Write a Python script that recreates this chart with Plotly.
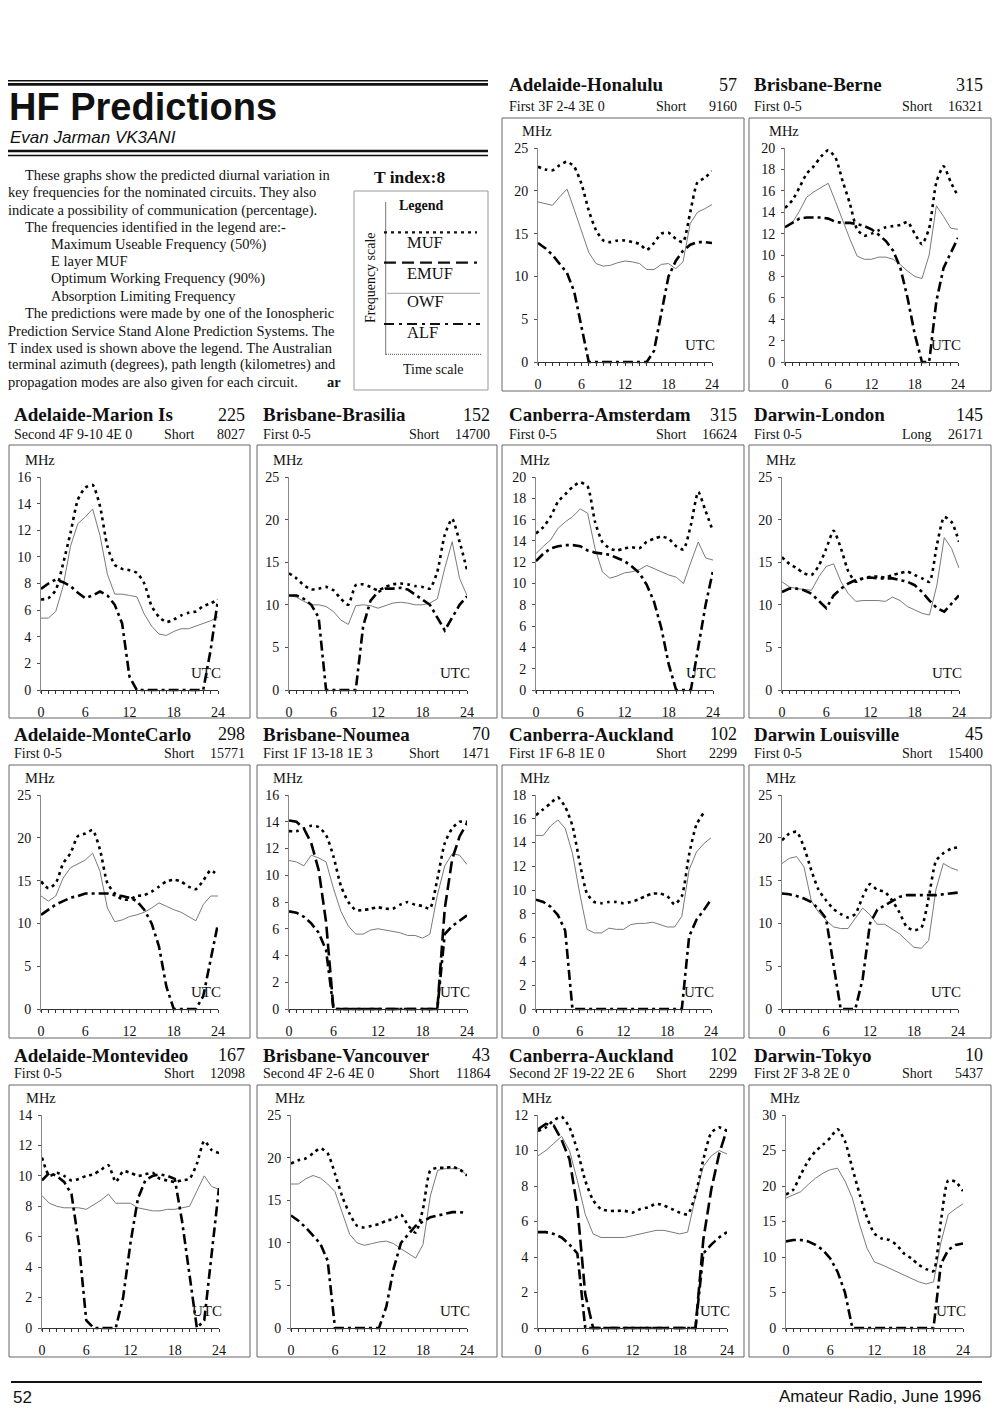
import plotly.graph_objects as go

W, H = 1000, 1415
# the page body adds an 8 px margin, so page positions are shifted back by that much
OFFSET = 8
SERIF = "Liberation Serif, Times New Roman, serif"
SANS = "Liberation Sans, Arial, sans-serif"

HOURS = list(range(25))

# ---- hourly predictions (MHz), UTC 0..24 ----
hon_muf = [22.8, 22.5, 22.4, 23.0, 23.4, 22.8, 20.8, 17.7, 15.4, 14.2, 14.0, 14.2, 14.2, 14.0, 13.8, 13.1, 13.9, 15.0, 15.1, 14.4, 14.0, 17.5, 21.0, 21.5, 22.3]
hon_owf = [18.7, 18.5, 18.3, 19.3, 20.2, 17.8, 15.2, 12.8, 11.5, 11.2, 11.3, 11.6, 11.8, 11.7, 11.5, 10.8, 10.8, 11.4, 11.5, 10.9, 11.7, 16.2, 17.5, 17.9, 18.4]
hon_alf = [13.9, 13.3, 12.5, 11.5, 10.4, 8.2, 4.0, 0, 0, 0, 0, 0, 0, 0, 0, 0, 1.3, 5.6, 10.0, 11.8, 13.0, 13.7, 14.0, 14.0, 13.9]

berne_muf = [14.4, 15.1, 16.3, 17.6, 18.3, 19.2, 19.8, 19.1, 16.9, 14.8, 12.4, 11.8, 12.0, 12.3, 12.6, 12.7, 12.8, 13.1, 12.0, 11.0, 12.5, 16.8, 18.3, 16.8, 15.5]
berne_owf = [12.6, 13.0, 14.1, 15.4, 15.9, 16.3, 16.7, 15.0, 13.2, 11.5, 9.9, 9.6, 9.6, 9.8, 9.8, 9.6, 9.1, 8.5, 8.0, 7.8, 10.0, 14.6, 13.6, 12.5, 12.4]
berne_alf = [12.6, 13.0, 13.4, 13.5, 13.5, 13.5, 13.4, 13.1, 13.0, 13.0, 12.9, 12.7, 12.4, 11.9, 11.3, 10.4, 8.8, 6.0, 2.6, 0, 0, 5.7, 8.8, 10.2, 11.6]

marion_muf = [6.8, 6.9, 7.5, 9.5, 11.8, 14.3, 15.2, 15.4, 13.8, 10.8, 9.4, 9.1, 9.0, 8.8, 8.0, 6.3, 5.5, 5.1, 5.3, 5.6, 5.8, 5.9, 6.3, 6.5, 6.8]
marion_owf = [5.4, 5.4, 5.9, 7.8, 10.8, 12.5, 13.0, 13.6, 11.6, 8.7, 7.2, 7.2, 7.1, 7.0, 5.7, 4.8, 4.2, 4.1, 4.4, 4.6, 4.6, 4.8, 5.0, 5.2, 5.5]
marion_alf = [7.6, 8.0, 8.3, 8.1, 7.8, 7.3, 6.9, 7.1, 7.4, 7.1, 6.4, 5.0, 1.0, 0, 0, 0, 0, 0, 0, 0, 0, 0, 0, 3.0, 6.8]

brasilia_muf = [13.7, 13.1, 12.3, 11.8, 11.9, 12.1, 11.7, 10.7, 10.0, 12.3, 12.4, 12.1, 11.7, 12.1, 12.4, 12.5, 12.4, 12.2, 12.1, 11.9, 13.9, 18.2, 20.1, 17.4, 14.1]
brasilia_owf = [11.1, 10.9, 10.4, 10.0, 10.0, 9.8, 9.2, 8.2, 7.7, 9.9, 10.0, 9.9, 9.6, 9.9, 10.2, 10.3, 10.2, 10.0, 10.0, 10.2, 10.7, 14.3, 17.4, 13.1, 11.1]
brasilia_alf = [11.1, 11.1, 10.7, 10.0, 8.5, 0, 0, 0, 0, 0, 7.5, 10.5, 11.5, 11.9, 11.9, 12.0, 11.8, 11.2, 10.5, 10.0, 8.5, 7.0, 8.5, 10.0, 11.0]

amst_muf = [14.7, 15.3, 16.3, 17.7, 18.4, 19.1, 19.5, 19.1, 15.8, 13.9, 13.3, 13.1, 13.3, 13.4, 13.3, 13.9, 14.2, 14.4, 14.2, 13.5, 13.2, 15.5, 18.6, 16.8, 14.9]
amst_owf = [12.8, 13.5, 14.1, 15.2, 15.8, 16.3, 17.0, 16.6, 13.3, 11.1, 10.5, 10.7, 11.0, 11.1, 11.3, 11.7, 11.4, 11.1, 10.8, 10.6, 10.0, 12.0, 13.9, 12.4, 12.2]
amst_alf = [12.1, 12.8, 13.3, 13.5, 13.6, 13.6, 13.5, 13.1, 12.9, 12.8, 12.7, 12.4, 12.1, 11.6, 11.0, 9.9, 8.3, 5.8, 2.4, 0, 0, 0, 4.0, 8.0, 11.2]

london_muf = [15.6, 14.8, 14.3, 13.7, 13.5, 14.6, 16.6, 18.7, 16.6, 13.9, 12.7, 13.1, 13.3, 13.3, 13.2, 13.5, 13.7, 13.9, 13.5, 13.1, 12.7, 17.0, 20.3, 19.7, 17.4]
london_owf = [12.7, 12.1, 11.9, 11.8, 11.7, 13.3, 14.5, 14.8, 12.7, 11.3, 10.4, 10.5, 10.5, 10.5, 10.4, 10.9, 10.5, 9.8, 9.4, 9.0, 8.8, 12.3, 17.9, 16.6, 14.3]
london_alf = [11.5, 11.9, 11.9, 11.7, 11.3, 10.4, 9.6, 11.1, 11.9, 12.5, 12.9, 13.1, 13.2, 13.1, 13.1, 13.1, 12.9, 12.7, 12.3, 11.5, 10.5, 9.6, 9.2, 10.2, 11.1]

monte_muf = [14.9, 14.1, 14.7, 17.0, 18.2, 20.2, 20.5, 20.9, 18.6, 14.7, 13.5, 12.8, 12.8, 13.2, 13.3, 13.7, 14.3, 14.9, 15.1, 14.9, 14.3, 14.0, 15.0, 16.2, 15.6]
monte_owf = [13.2, 12.6, 13.2, 15.3, 16.5, 17.0, 17.4, 18.2, 16.1, 11.8, 10.2, 10.4, 10.8, 11.0, 11.3, 11.8, 12.4, 12.0, 11.6, 11.3, 10.8, 10.3, 12.2, 13.2, 13.2]
monte_alf = [11.0, 11.6, 12.2, 12.6, 13.0, 13.2, 13.5, 13.5, 13.5, 13.5, 13.3, 13.2, 13.0, 12.6, 11.6, 10.0, 7.3, 2.6, 0, 0, 0, 0, 1.5, 5.8, 10.0]

noumea_muf = [13.3, 13.3, 13.5, 13.7, 13.6, 13.0, 11.4, 9.2, 8.0, 7.4, 7.4, 7.5, 7.6, 7.5, 7.5, 7.8, 8.0, 7.8, 7.7, 7.5, 9.7, 12.4, 13.5, 14.0, 14.0]
noumea_owf = [11.1, 11.0, 10.7, 11.5, 11.3, 11.0, 9.0, 7.3, 6.2, 5.6, 5.6, 5.9, 6.0, 5.9, 5.8, 5.7, 5.5, 5.5, 5.3, 5.6, 8.5, 10.7, 11.6, 11.5, 10.8]
noumea_emuf = [14.1, 14.0, 13.5, 12.4, 10.4, 6.5, 0, 0, 0, 0, 0, 0, 0, 0, 0, 0, 0, 0, 0, 0, 0, 7.5, 11.2, 12.9, 13.9]
noumea_alf = [7.3, 7.2, 6.9, 6.4, 5.7, 4.4, 0, 0, 0, 0, 0, 0, 0, 0, 0, 0, 0, 0, 0, 0, 0, 5.6, 6.2, 6.6, 7.0]

auck1_muf = [16.3, 16.8, 17.3, 17.8, 17.0, 15.4, 12.3, 9.7, 9.0, 8.9, 9.0, 9.0, 8.9, 9.0, 9.2, 9.5, 9.7, 9.7, 9.5, 8.8, 9.5, 13.0, 15.5, 16.5, None]
auck1_owf = [14.6, 14.6, 15.4, 15.9, 15.2, 13.1, 9.7, 6.7, 6.4, 6.4, 6.8, 6.7, 6.7, 7.1, 7.2, 7.2, 7.3, 7.1, 6.9, 6.9, 7.8, 11.7, 13.2, 13.9, 14.4]
auck1_alf = [9.2, 9.0, 8.6, 7.9, 6.6, 0, 0, 0, 0, 0, 0, 0, 0, 0, 0, 0, 0, 0, 0, 0, 0, 6.1, 7.5, 8.3, 9.2]

louis_muf = [19.7, 20.5, 20.7, 18.9, 16.2, 13.9, 12.7, 11.7, 11.1, 10.7, 11.1, 13.1, 14.6, 13.9, 13.7, 12.7, 11.3, 9.6, 9.2, 9.5, 13.0, 17.3, 18.2, 18.7, 18.9]
louis_owf = [17.0, 17.6, 17.8, 16.6, 12.6, 11.3, 10.4, 9.6, 9.4, 9.4, 10.6, 11.8, 11.0, 9.9, 9.9, 9.3, 8.8, 8.0, 7.2, 7.1, 8.0, 14.0, 17.0, 16.5, 16.2]
louis_alf = [13.5, 13.4, 13.2, 12.9, 12.5, 11.7, 10.6, 5.5, 0, 0, 0, 3.5, 10.0, 11.6, 12.1, 12.7, 13.1, 13.3, 13.3, 13.3, 13.3, 13.3, 13.4, 13.5, 13.6]

mvd_muf = [11.2, 10.0, 10.2, 10.0, 9.7, 9.8, 10.0, 10.1, 10.4, 10.7, 9.6, 10.3, 10.2, 10.0, 10.1, 10.2, 9.8, 9.7, 9.6, 9.7, 9.8, 10.8, 12.3, 11.7, 11.5]
mvd_owf = [8.7, 8.2, 8.0, 7.9, 7.9, 7.9, 7.8, 8.1, 8.4, 8.8, 8.2, 8.2, 8.2, 7.9, 7.8, 7.7, 7.7, 7.8, 7.8, 7.9, 8.0, 9.0, 10.0, 9.3, 9.1]
mvd_alf = [9.7, 10.2, 10.0, 9.6, 8.8, 5.5, 0.5, 0, 0, 0, 0, 2.0, 5.6, 8.5, 9.7, 10.0, 10.1, 10.0, 9.8, 7.0, 3.5, 0, 0.5, 5.0, 9.2]

vanc_muf = [19.3, 19.7, 19.9, 20.5, 21.1, 20.5, 18.1, 15.4, 13.4, 12.0, 11.8, 12.0, 12.2, 12.6, 12.8, 13.3, 12.0, 11.2, 14.0, 18.5, 18.8, 18.8, 18.9, 18.6, 17.9]
vanc_owf = [16.9, 16.9, 17.5, 17.9, 17.6, 16.9, 16.0, 13.4, 11.0, 10.0, 9.7, 9.9, 10.1, 10.2, 9.9, 9.3, 8.7, 8.2, 9.8, 15.5, 18.5, 18.7, 18.7, 18.7, 17.9]
vanc_alf = [13.2, 12.6, 11.8, 10.9, 9.9, 7.9, 0, 0, 0, 0, 0, 0, 0, 2.5, 7.0, 10.0, 11.0, 12.0, 12.5, 13.0, 13.2, 13.4, 13.6, 13.6, 13.5]

auck2_muf = [11.1, 11.3, 11.7, 11.9, 11.3, 10.0, 8.3, 7.2, 6.7, 6.6, 6.6, 6.6, 6.5, 6.7, 6.8, 7.0, 6.9, 6.7, 6.5, 6.4, 7.5, 9.5, 11.0, 11.3, 11.1]
auck2_owf = [9.7, 10.0, 10.4, 10.8, 10.0, 8.3, 6.4, 5.3, 5.1, 5.1, 5.1, 5.1, 5.2, 5.3, 5.4, 5.5, 5.5, 5.4, 5.3, 5.4, 7.4, 9.1, 9.7, 10.0, 9.8]
auck2_emuf = [11.2, 11.5, 11.4, 10.6, 9.5, 6.8, 1.9, 0, 0, 0, 0, 0, 0, 0, 0, 0, 0, 0, 0, 0, 0, 5.0, 7.8, 9.8, 11.2]
auck2_alf = [5.4, 5.4, 5.3, 5.1, 4.7, 4.2, 0, 0, 0, 0, 0, 0, 0, 0, 0, 0, 0, 0, 0, 0, 0, 4.2, 4.7, 5.1, 5.4]

tokyo_muf = [18.8, 19.5, 21.6, 23.5, 24.9, 25.8, 26.8, 28.0, 26.3, 22.5, 18.8, 15.5, 13.3, 12.6, 12.4, 11.7, 10.5, 9.8, 8.9, 8.3, 8.0, 15.0, 20.8, 20.6, 19.3]
tokyo_owf = [18.3, 18.8, 19.2, 20.2, 21.1, 21.8, 22.3, 22.5, 20.7, 18.3, 14.5, 11.2, 9.3, 8.9, 8.4, 7.9, 7.5, 6.9, 6.5, 6.2, 6.5, 12.0, 16.0, 16.8, 17.5]
tokyo_alf = [12.2, 12.4, 12.4, 12.2, 11.7, 11.0, 9.8, 7.9, 5.0, 0, 0, 0, 0, 0, 0, 0, 0, 0, 0, 0, 0, 9.0, 11.0, 11.7, 11.9]

# ---- circuit headings ----
CIRCUITS = [
    dict(name="Adelaide-Honalulu", az="57", modes="First 3F 2-4 3E 0", path="Short", km="9160",
         ymax=25, dtick=5, muf=hon_muf, owf=hon_owf, alf=hon_alf, emuf=None, pos=(0, 2)),
    dict(name="Brisbane-Berne", az="315", modes="First 0-5", path="Short", km="16321",
         ymax=20, dtick=2, muf=berne_muf, owf=berne_owf, alf=berne_alf, emuf=None, pos=(0, 3)),
    dict(name="Adelaide-Marion Is", az="225", modes="Second 4F 9-10 4E 0", path="Short", km="8027",
         ymax=16, dtick=2, muf=marion_muf, owf=marion_owf, alf=marion_alf, emuf=None, pos=(1, 0)),
    dict(name="Brisbane-Brasilia", az="152", modes="First 0-5", path="Short", km="14700",
         ymax=25, dtick=5, muf=brasilia_muf, owf=brasilia_owf, alf=brasilia_alf, emuf=None, pos=(1, 1)),
    dict(name="Canberra-Amsterdam", az="315", modes="First 0-5", path="Short", km="16624",
         ymax=20, dtick=2, muf=amst_muf, owf=amst_owf, alf=amst_alf, emuf=None, pos=(1, 2)),
    dict(name="Darwin-London", az="145", modes="First 0-5", path="Long", km="26171",
         ymax=25, dtick=5, muf=london_muf, owf=london_owf, alf=london_alf, emuf=None, pos=(1, 3)),
    dict(name="Adelaide-MonteCarlo", az="298", modes="First 0-5", path="Short", km="15771",
         ymax=25, dtick=5, muf=monte_muf, owf=monte_owf, alf=monte_alf, emuf=None, pos=(2, 0)),
    dict(name="Brisbane-Noumea", az="70", modes="First 1F 13-18 1E 3", path="Short", km="1471",
         ymax=16, dtick=2, muf=noumea_muf, owf=noumea_owf, alf=noumea_alf, emuf=noumea_emuf, pos=(2, 1)),
    dict(name="Canberra-Auckland", az="102", modes="First 1F 6-8 1E 0", path="Short", km="2299",
         ymax=18, dtick=2, muf=auck1_muf, owf=auck1_owf, alf=auck1_alf, emuf=None, pos=(2, 2)),
    dict(name="Darwin Louisville", az="45", modes="First 0-5", path="Short", km="15400",
         ymax=25, dtick=5, muf=louis_muf, owf=louis_owf, alf=louis_alf, emuf=None, pos=(2, 3)),
    dict(name="Adelaide-Montevideo", az="167", modes="First 0-5", path="Short", km="12098",
         ymax=14, dtick=2, muf=mvd_muf, owf=mvd_owf, alf=mvd_alf, emuf=None, pos=(3, 0)),
    dict(name="Brisbane-Vancouver", az="43", modes="Second 4F 2-6 4E 0", path="Short", km="11864",
         ymax=25, dtick=5, muf=vanc_muf, owf=vanc_owf, alf=vanc_alf, emuf=None, pos=(3, 1)),
    dict(name="Canberra-Auckland", az="102", modes="Second 2F 19-22 2E 6", path="Short", km="2299",
         ymax=12, dtick=2, muf=auck2_muf, owf=auck2_owf, alf=auck2_alf, emuf=auck2_emuf, pos=(3, 2)),
    dict(name="Darwin-Tokyo", az="10", modes="First 2F 3-8 2E 0", path="Short", km="5437",
         ymax=30, dtick=5, muf=tokyo_muf, owf=tokyo_owf, alf=tokyo_alf, emuf=None, pos=(3, 3)),
]

# ---- page geometry (pixels) ----
BOX_X = [(9, 250), (257, 497), (502, 744), (749, 991)]
TITLE_X = [(12, 247), (261, 492), (507, 739), (752, 985)]
ROWS = [  # title y, subtitle y, box top, box bottom, axis top, axis zero
    (85, 106, 118, 391, 148, 362),
    (415, 434, 445, 718, 477, 690),
    (734, 753, 765, 1038, 795, 1009),
    (1055, 1073, 1085, 1357, 1115, 1328),
]
AXIS_X = {
    (0, 2): (538, 712), (0, 3): (785, 958),
    (1, 0): (41, 218), (1, 1): (289, 467), (1, 2): (536, 713), (1, 3): (782, 959),
    (2, 0): (41, 218), (2, 1): (289, 467), (2, 2): (536, 711), (2, 3): (782, 958),
    (3, 0): (42, 219), (3, 1): (291, 467), (3, 2): (538, 727), (3, 3): (786, 963),
}

MUF_LINE = dict(color="black", width=2.6, dash="3px,4px")
OWF_LINE = dict(color="#7a7a7a", width=1)
ALF_LINE = dict(color="black", width=2.6, dash="10px,4px,3px,4px")
EMUF_LINE = dict(color="black", width=2.6, dash="12px,5px")


def fx(px):
    return (px - OFFSET) / W


def fy(py):
    return 1 - (py - OFFSET) / H


annotations = []
shapes = []


def text(x, y, s, size, family=SERIF, anchor="left", angle=0, color="#111"):
    annotations.append(dict(
        x=fx(x), y=fy(y), xref="paper", yref="paper", text=s, showarrow=False,
        xanchor=anchor, yanchor="middle", textangle=angle,
        font=dict(family=family, size=size, color=color)))


def hline(x0, x1, y, width, dash="solid", color="#111"):
    shapes.append(dict(type="line", xref="paper", yref="paper",
                       x0=fx(x0), x1=fx(x1), y0=fy(y), y1=fy(y),
                       line=dict(color=color, width=width, dash=dash)))


fig = go.Figure()
layout = {}
PAD = 3

for i, c in enumerate(CIRCUITS):
    n = i + 1
    sfx = "" if n == 1 else str(n)
    row, col = c["pos"]
    ty, sy, bt, bb, ytop, yzero = ROWS[row]
    bx0, bx1 = BOX_X[col]
    tx0, tx1 = TITLE_X[col]
    ax0, ax1 = AXIS_X[(row, col)]
    ppm = (yzero - ytop) / c["ymax"]

    layout["xaxis" + sfx] = dict(
        domain=[fx(ax0), fx(ax1)], range=[0, 24], anchor="free", position=fy(yzero),
        tickmode="linear", tick0=0, dtick=6, ticks="outside", ticklen=3, tickcolor="#333",
        minor=dict(tickmode="linear", tick0=0, dtick=1, ticks="outside", ticklen=3, tickcolor="#333"),
        showline=True, linecolor="#333", linewidth=1, showgrid=False, zeroline=False,
        automargin=False, ticklabelstandoff=6,
        tickfont=dict(family=SERIF, size=14, color="#111"), fixedrange=True)
    layout["yaxis" + sfx] = dict(
        domain=[fy(yzero + PAD), fy(ytop)], range=[-PAD / ppm, c["ymax"]], anchor="x" + sfx,
        tickmode="linear", tick0=0, dtick=c["dtick"], ticks="outside", ticklen=3, tickcolor="#555",
        showline=True, linecolor="#888", linewidth=1, showgrid=False, zeroline=False,
        automargin=False, ticklabelstandoff=3,
        tickfont=dict(family=SERIF, size=14, color="#111"), fixedrange=True)

    xa, ya = "x" + sfx, "y" + sfx
    fig.add_trace(go.Scatter(x=HOURS, y=c["owf"], mode="lines", line=OWF_LINE, xaxis=xa, yaxis=ya))
    fig.add_trace(go.Scatter(x=HOURS, y=c["alf"], mode="lines", line=ALF_LINE, xaxis=xa, yaxis=ya))
    if c["emuf"] is not None:
        fig.add_trace(go.Scatter(x=HOURS, y=c["emuf"], mode="lines", line=EMUF_LINE, xaxis=xa, yaxis=ya))
    fig.add_trace(go.Scatter(x=HOURS, y=c["muf"], mode="lines", line=dict(MUF_LINE, shape="spline", smoothing=0.6),
                             xaxis=xa, yaxis=ya))

    # frame and headings
    shapes.append(dict(type="rect", xref="paper", yref="paper", x0=fx(bx0), x1=fx(bx1),
                       y0=fy(bb), y1=fy(bt), line=dict(color="#666", width=1)))
    text(tx0, ty, "<b>%s</b>" % c["name"], 19)
    text(tx1, ty, c["az"], 18, anchor="right")
    text(tx0, sy, c["modes"], 14)
    text(tx1 - 85, sy, c["path"], 14)
    text(tx1, sy, c["km"], 14, anchor="right")
    text(ax0 - 18, ytop - 17, "MHz", 14.5)
    text(ax1 + 5, yzero - 17, "UTC", 15, anchor="right")

# ---- page header ----
hline(5, 488, 80.7, 1.5)
hline(5, 488, 84.3, 2.8)
text(7, 106.5, "<b>HF Predictions</b>", 38, family=SANS)
text(8, 138, "<i>Evan Jarman VK3ANI</i>", 17, family=SANS)
hline(5, 488, 151, 2.6)
hline(5, 488, 155.6, 1.5)

BODY = [
    (23, 175, "These graphs show the predicted diurnal variation in"),
    (6, 192, "key frequencies for the nominated circuits. They also"),
    (6, 210, "indicate a possibility of communication (percentage)."),
    (23, 227, "The frequencies identified in the legend are:-"),
    (49, 244, "Maximum Useable Frequency (50%)"),
    (49, 261, "E layer MUF"),
    (49, 278, "Optimum Working Frequency (90%)"),
    (49, 296, "Absorption Limiting Frequency"),
    (23, 313, "The predictions were made by one of the Ionospheric"),
    (6, 331, "Prediction Service Stand Alone Prediction Systems. The"),
    (6, 348, "T index used is shown above the legend. The Australian"),
    (6, 365, "terminal azimuth (degrees), path length (kilometres) and"),
    (6, 382, "propagation modes are also given for each circuit."),
]
for bx, by, s in BODY:
    text(bx, by, s, 14.5)
text(343, 382, "<b>ar</b>", 14.5, anchor="right")

# legend panel
text(409, 177, "<b>T index:8</b>", 17.5, anchor="center")
shapes.append(dict(type="rect", xref="paper", yref="paper", x0=fx(354), x1=fx(488),
                   y0=fy(390), y1=fy(191), line=dict(color="#999", width=1)))
shapes.append(dict(type="line", xref="paper", yref="paper", x0=fx(385.7), x1=fx(385.7),
                   y0=fy(355), y1=fy(202), line=dict(color="#777", width=1)))
text(421, 206, "<b>Legend</b>", 14, anchor="center")
hline(384, 477, 232.3, 2.2, dash="3px,4px")
text(405, 242, "MUF", 16.5)
hline(384, 477, 262.7, 2.2, dash="12px,6px")
text(405, 273, "EMUF", 16.5)
hline(387, 480, 293.3, 0.8, color="#888")
text(405, 302, "OWF", 16.5)
hline(384, 480, 324, 2.2, dash="10px,5px,3px,5px")
text(405, 332, "ALF", 16.5)
hline(386, 481, 354.3, 1, dash="1px,1px", color="#555")
text(433, 370, "Time scale", 14, anchor="center")
text(370, 278, "Frequency scale", 14, anchor="center", angle=-90)

# ---- footer ----
hline(11, 982, 1382, 2)
text(11, 1397, "52", 17, family=SANS)
text(983, 1396, "Amateur Radio, June 1996", 17, family=SANS, anchor="right")

fig.update_layout(
    width=W, height=H, autosize=False, margin=dict(l=0, r=0, t=0, b=0, pad=0),
    paper_bgcolor="white", plot_bgcolor="white", showlegend=False,
    annotations=annotations, shapes=shapes, **layout)

fig.write_html("out.html")
